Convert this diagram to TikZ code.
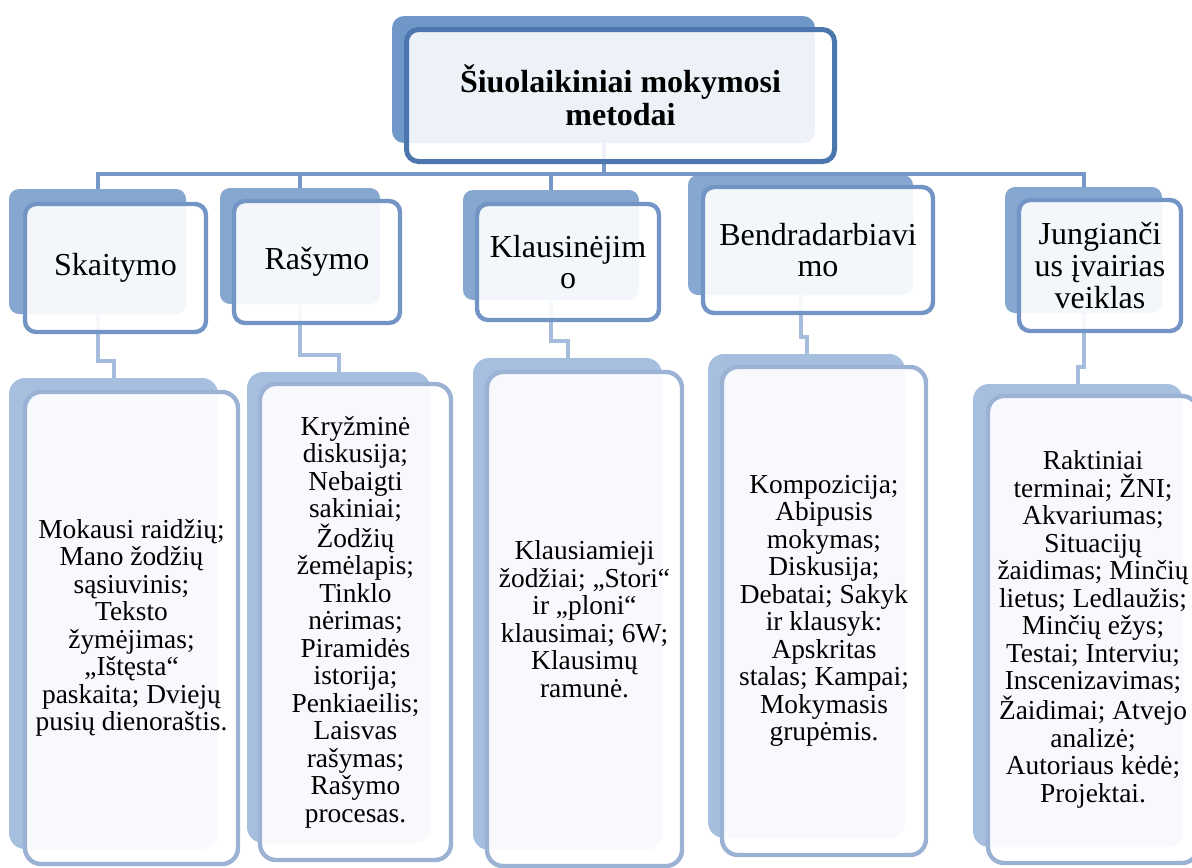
\documentclass[tikz,border=0pt]{standalone}
\usepackage{fontspec}
\setmainfont{Liberation Serif}
\usetikzlibrary{positioning,calc}
\definecolor{cTopShade}{HTML}{6F98C9}
\definecolor{cTopEdge}{HTML}{4B77AE}
\definecolor{cMidShade}{HTML}{86A8D0}
\definecolor{cMidEdge}{HTML}{7395C6}
\definecolor{cLowShade}{HTML}{A7BFDF}
\definecolor{cLowEdge}{HTML}{9CB2D5}
\definecolor{cBar}{HTML}{7598C8}
\definecolor{cLink}{HTML}{A6BCDC}
\tikzset{wh/.style 2 args={minimum width=#1*0.5pt,minimum height=#2*0.5pt}}
\tikzstyle{topshade} = [fill=cTopShade,rounded corners=6pt,inner sep=0]
\tikzstyle{topcard} = [draw=cTopEdge,line width=2.5pt,rounded corners=6pt,fill=white,fill opacity=0.88,text opacity=1,inner sep=0,align=center,font=\fontsize{16}{16.5}\selectfont\bfseries]
\tikzstyle{midshade} = [fill=cMidShade,rounded corners=5pt,inner sep=0]
\tikzstyle{midcard} = [draw=cMidEdge,line width=2.2pt,rounded corners=5.5pt,fill=white,fill opacity=0.9,text opacity=1,inner sep=0,align=center,font=\fontsize{16}{15.8}\selectfont]
\tikzstyle{lowshade} = [fill=cLowShade,rounded corners=8pt,inner sep=0]
\tikzstyle{lowcard} = [draw=cLowEdge,line width=2.2pt,rounded corners=8pt,fill=white,fill opacity=0.92,text opacity=1,inner sep=0,align=center,font=\fontsize{13.7}{13.75}\selectfont]
\tikzstyle{bar} = [-,draw=cBar,line width=2pt]
\tikzstyle{link} = [-,draw=cLink,line width=2pt]
\def \jog {8.5pt}

\begin{document}
\begin{tikzpicture}[x=0.5pt,y=-0.5pt]
  \useasboundingbox (0,0) rectangle (1192,867);
  % shades
  \node[topshade,wh={423}{127}] (topB) at (603.5,79.5) {};
  \node[midshade,wh={177}{125}] (skB) at (97.5,251.5) {};
  \node[midshade,wh={160}{116}] (raB) at (300,246) {};
  \node[midshade,wh={176}{110}] (klB) at (551,245) {};
  \node[midshade,wh={225}{120}] (beB) at (800.5,235) {};
  \node[midshade,wh={157}{126}] (juB) at (1083.5,250) {};
  \node[lowshade,wh={209}{471}] (skLB) at (113.5,613.5) {};
  \node[lowshade,wh={183}{471}] (raLB) at (338.5,607.5) {};
  \node[lowshade,wh={189}{492}] (klLB) at (567.5,604) {};
  \node[lowshade,wh={197}{484}] (beLB) at (806.5,596) {};
  \node[lowshade,wh={210}{463}] (juLB) at (1078,615.5) {};
  % connectors
  \coordinate (hub) at (603.5,174);
  \draw[bar] (topB.south) -- (hub);
  \draw[bar] (hub) -| (skB.north);
  \draw[bar] (hub) -| (raB.north);
  \draw[bar] (hub) -| (klB.north);
  \draw[bar] (hub) -| (beB.north);
  \draw[bar] (hub) -| (juB.north);
  \draw[link] (skB.south) |- ([yshift=\jog]skLB.north) -- (skLB.north);
  \draw[link] (raB.south) |- ([yshift=\jog]raLB.north) -- (raLB.north);
  \draw[link] (klB.south) |- ([yshift=\jog]klLB.north) -- (klLB.north);
  \draw[link] (beB.south) |- ([yshift=\jog]beLB.north) -- (beLB.north);
  \draw[link] (juB.south) |- ([yshift=\jog]juLB.north) -- (juLB.north);
  % cards
  \node[topcard,wh={428}{132}] (top) at (620.5,95.5) {Šiuolaikiniai mokymosi\\metodai};
  \node[midcard,wh={181}{128}] (sk) at (115.5,268) {Skaitymo};
  \node[midcard,wh={166}{122}] (ra) at (317,262) {Rašymo};
  \node[midcard,wh={182}{116}] (kl) at (568,262) {Klausinėjim\\o};
  \node[midcard,wh={230}{126}] (be) at (818,250) {Bendradarbiavi\\mo};
  \node[midcard,wh={162}{131}] (ju) at (1100,265.5) {Jungianči\\us įvairias\\veiklas};
  \node[lowcard,wh={213}{472}] (skL) at (131.5,628) {Mokausi raidžių;\\Mano žodžių\\sąsiuvinis;\\Teksto\\žymėjimas;\\„Ištęsta“\\paskaita; Dviejų\\pusių dienoraštis.};
  \node[lowcard,wh={191}{476}] (raL) at (355.5,622) {Kryžminė\\diskusija;\\Nebaigti\\sakiniai;\\Žodžių\\žemėlapis;\\Tinklo\\nėrimas;\\Piramidės\\istorija;\\Penkiaeilis;\\Laisvas\\rašymas;\\Rašymo\\procesas.};
  \node[lowcard,wh={195}{494}] (klL) at (584.5,619) {Klausiamieji\\žodžiai; „Stori“\\ir „ploni“\\klausimai; 6W;\\Klausimų\\ramunė.};
  \node[lowcard,wh={204}{488}] (beL) at (824,611) {Kompozicija;\\Abipusis\\mokymas;\\Diskusija;\\Debatai; Sakyk\\ir klausyk:\\Apskritas\\stalas; Kampai;\\Mokymasis\\grupėmis.};
  \node[lowcard,wh={210}{467}] (juL) at (1093,629.5) {Raktiniai\\terminai; ŽNI;\\Akvariumas;\\Situacijų\\žaidimas; Minčių\\lietus; Ledlaužis;\\Minčių ežys;\\Testai; Interviu;\\Inscenizavimas;\\Žaidimai; Atvejo\\analizė;\\Autoriaus kėdė;\\Projektai.};
\end{tikzpicture}
\end{document}
